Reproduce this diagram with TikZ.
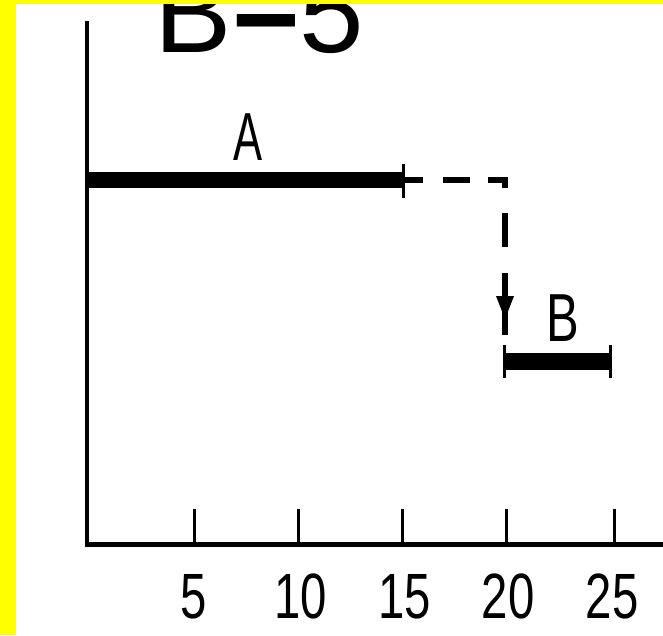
\documentclass[tikz,border=0pt]{standalone}
\usepackage{fontspec}
\setmainfont{Liberation Sans}
\definecolor{bordery}{RGB}{255,255,0}
\newcommand\narrowtxt[2]{\scalebox{#1}[1]{#2}}
\begin{document}
\begin{tikzpicture}[x=1pt,y=-1pt,
  axisline/.style={line width=4.5pt, line join=miter},
  tickline/.style={line width=3pt},
  barline/.style={line width=16.5pt},
  endtick/.style={line width=3.5pt},
  dashline/.style={line width=6pt, line join=miter,
    dash pattern=on 20pt off 20pt on 27pt off 18pt on 24.5pt off 25pt on 34pt off 26pt on 62pt},
  ticklabel/.style={font=\fontsize{64}{64}\selectfont, anchor=base, inner sep=0pt},
  barlabel/.style={font=\fontsize{68}{68}\selectfont, anchor=base, inner sep=0pt},
  titlelabel/.style={font=\fontsize{116}{116}\selectfont, anchor=base west, inner sep=0pt}]
\useasboundingbox (0,0) rectangle (663,635);
\fill[white] (0,0) rectangle (663,635);
% title
\node[titlelabel] (title) at (154.5,52) {B\raisebox{9pt}{\bfseries =}5};
% axes
\coordinate (ytop) at (87,21);
\coordinate (orig) at (87,544.5);
\coordinate (xend) at (663,544.5);
\draw[axisline] (ytop) -- (orig) -- (xend);
% ticks
\foreach \xv/\lab in {194/5,298/10,402/15,506/20,614/25}{
  \coordinate (tk\lab) at (\xv,544.5);
  \coordinate (tt\lab) at (\xv,509);
  \draw[tickline] (tk\lab) -- (tt\lab);
}
% tick labels
\node[ticklabel] (l5)  at (194,618) {\narrowtxt{0.74}{5}};
\node[ticklabel] (l10) at (301,618) {\narrowtxt{0.74}{10}};
\node[ticklabel] (l15) at (405,618) {\narrowtxt{0.74}{15}};
\node[ticklabel] (l20) at (508,618) {\narrowtxt{0.74}{20}};
\node[ticklabel] (l25) at (612,618) {\narrowtxt{0.74}{25}};
% bar A
\coordinate (a0) at (87,180);
\coordinate (a1) at (403,180);
\coordinate (a1t) at (403,164);
\coordinate (a1b) at (403,198);
\draw[barline, line width=16pt] (a0) -- (a1);
\draw[tickline] (a1t) -- (a1b);
\node[barlabel] (labA) at (248,160) {\narrowtxt{0.64}{A}};
% dashed transfer
\coordinate (corner) at (504.5,180);
\coordinate (dend) at (504.5,335);
\draw[dashline] (a1) -- (corner) -- (dend);
\fill (496,296) -- (514,296) -- (505,319) -- cycle;
% bar B
\coordinate (b0) at (504.5,361.5);
\coordinate (b1) at (610.5,361.5);
\coordinate (b0t) at (504.5,345);
\coordinate (b0b) at (504.5,378);
\coordinate (b1t) at (610.5,345);
\coordinate (b1b) at (610.5,378);
\draw[barline, line width=17pt] (b0) -- (b1);
\draw[endtick] (b0t) -- (b0b);
\draw[endtick] (b1t) -- (b1b);
\node[barlabel] (labB) at (563,341) {\narrowtxt{0.72}{B}};
% yellow border
\fill[bordery] (0,0) rectangle (16,635);
\fill[bordery] (0,0) rectangle (663,4);
\end{tikzpicture}
\end{document}
